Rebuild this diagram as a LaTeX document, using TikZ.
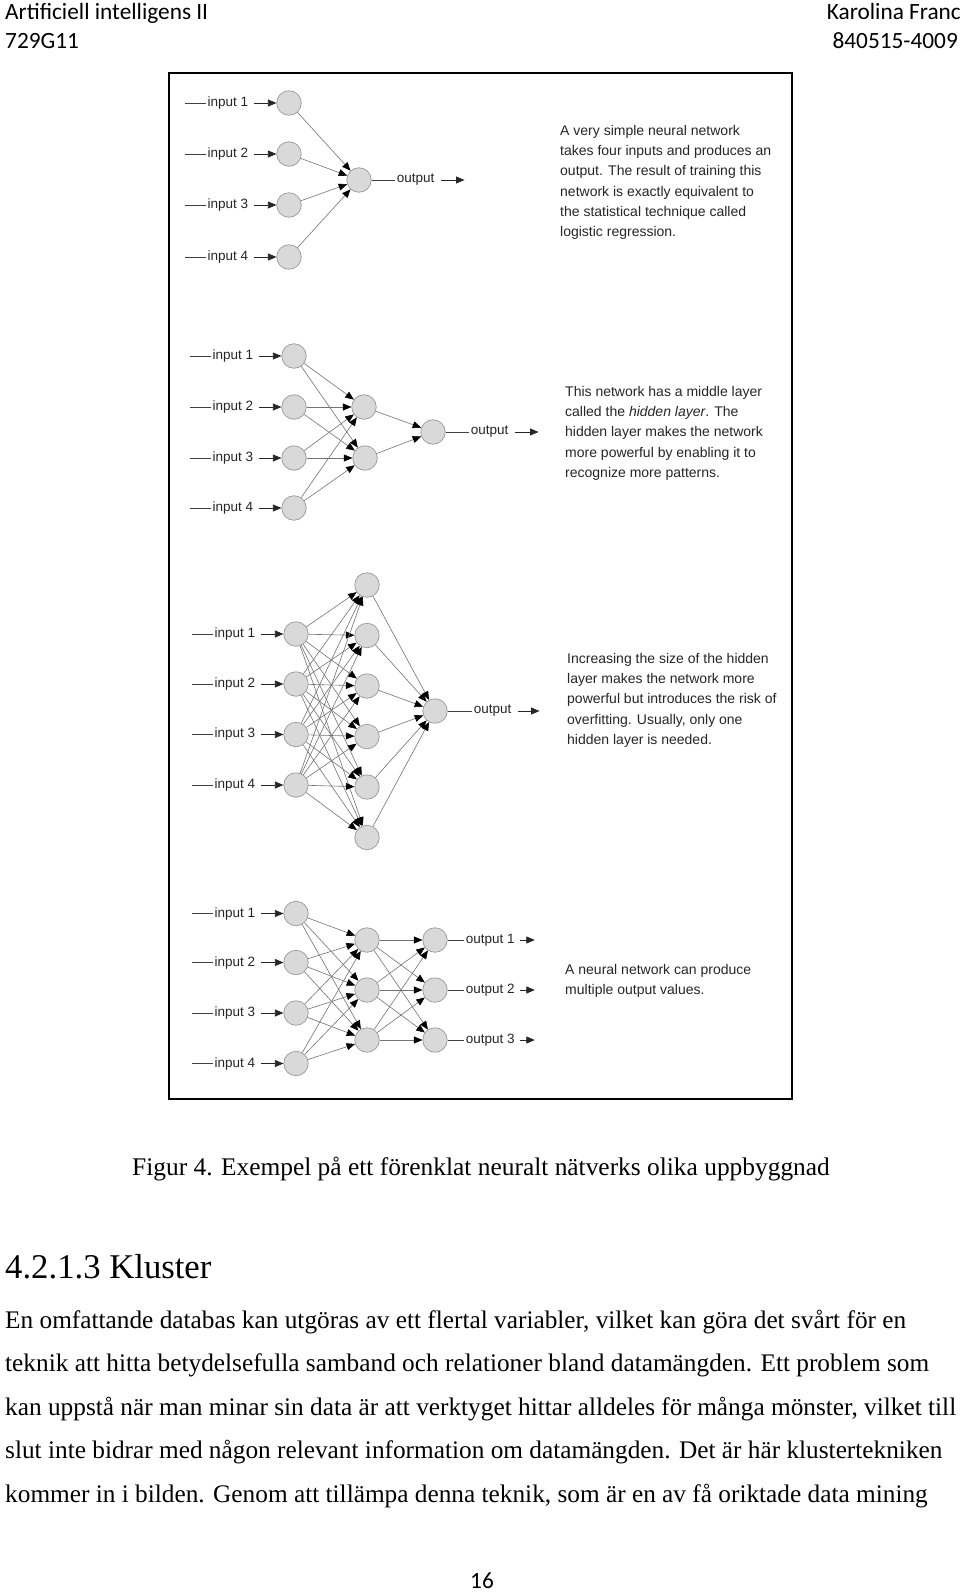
\documentclass[tikz,border=0pt]{standalone}
\usepackage{fontspec}
\setmainfont{Liberation Serif}
\setsansfont{Liberation Sans}
\newfontfamily\calfont{Carlito}
\usetikzlibrary{arrows.meta,positioning}

\begin{document}
\begin{tikzpicture}[x=1pt,y=-1pt,
  neuron/.style={circle,draw=gray!80,fill=gray!30,minimum size=24.5pt,inner sep=0pt,line width=0.7pt},
  lbl/.style={font=\sffamily\fontsize{13.5}{16}\selectfont,text=black!85,inner sep=0pt},
  note/.style={font=\sffamily\fontsize{14}{20.3}\selectfont,text=black!85,align=left,
               anchor=north west,inner sep=0pt},
  wire/.style={draw=black!55,line width=0.6pt,-{Triangle[length=8.5pt,width=7pt,color=black]}},
  feed/.style={draw=black!85,line width=0.8pt,-{Triangle[length=8.5pt,width=7pt]}},
  lead/.style={draw=black!75,line width=0.7pt,shorten >=1.5pt},
  bodyline/.style={font=\fontsize{25.3}{30}\selectfont,anchor=base west,inner sep=0pt},
  hdr/.style={font=\calfont\fontsize{23.3}{28}\selectfont,inner sep=0pt}]

\useasboundingbox (0,0) rectangle (960,1592);
\fill[white] (0,0) rectangle (960,1592);

% page header
\node[hdr,anchor=base west] (course) at (5,20) {Artificiell intelligens II};
\node[hdr,anchor=base west] (code) at (5,48.5) {729G11};
\node[hdr,anchor=base east] (author) at (961,20) {Karolina Franc};
\node[hdr,anchor=base east] (pnr) at (958,48.5) {840515-4009};

% figure frame
\draw[line width=2.2pt] (169,73) rectangle (792,1099);

% network 1: four inputs, one output
\foreach \k/\y in {1/103,2/154,3/205,4/257}{
  \node[neuron] (a\k) at (289,\y) {};
  \node[lbl,left=28pt of a\k] (al\k) {input \k};
  \coordinate[left=22pt of al\k] (as\k);
  \draw[lead] (as\k) -- (al\k);
  \draw[feed,shorten <=6pt] (al\k) -- (a\k);
}
\node[neuron] (ao) at (359,180) {};
\foreach \k in {1,...,4} \draw[wire] (a\k) -- (ao);
\node[lbl,right=25pt of ao] (aol) {output};
\draw[lead] (ao) -- (aol);
\coordinate[right=30pt of aol] (ae);
\draw[feed,shorten <=6pt] (aol) -- (ae);

\node[note] (n1) at (560,125) {A very simple neural network\\
takes four inputs and produces an\\
output.  The result of training this\\
network is exactly equivalent to\\
the statistical technique called\\
logistic regression.};

% network 2: one hidden layer of two
\foreach \k/\y in {1/356,2/407,3/458,4/508}{
  \node[neuron] (b\k) at (294,\y) {};
  \node[lbl,left=28pt of b\k] (bl\k) {input \k};
  \coordinate[left=22pt of bl\k] (bs\k);
  \draw[lead] (bs\k) -- (bl\k);
  \draw[feed,shorten <=6pt] (bl\k) -- (b\k);
}
\node[neuron] (bh1) at (364,407) {};
\node[neuron] (bh2) at (365,458) {};
\node[neuron] (bo) at (433,432) {};
\foreach \k in {1,...,4}{
  \draw[wire] (b\k) -- (bh1);
  \draw[wire] (b\k) -- (bh2);
}
\foreach \h in {1,2} \draw[wire] (bh\h) -- (bo);
\node[lbl,right=25pt of bo] (bol) {output};
\draw[lead] (bo) -- (bol);
\coordinate[right=30pt of bol] (be);
\draw[feed,shorten <=6pt] (bol) -- (be);

\node[note] (n2) at (565,386) {This network has a middle layer\\
called the \textit{hidden layer}. The\\
hidden layer makes the network\\
more powerful by enabling it to\\
recognize more patterns.};

% network 3: hidden layer of six
\foreach \k/\y in {1/634,2/684,3/734.5,4/785}{
  \node[neuron] (c\k) at (296,\y) {};
  \node[lbl,left=28pt of c\k] (cl\k) {input \k};
  \coordinate[left=22pt of cl\k] (cs\k);
  \draw[lead] (cs\k) -- (cl\k);
  \draw[feed,shorten <=6pt] (cl\k) -- (c\k);
}
\foreach \h in {1,...,6} \node[neuron] (ch\h) at (367,{534.5+50.5*\h}) {};
\node[neuron] (co) at (435,711) {};
\foreach \k in {1,...,4} \foreach \h in {1,...,6} \draw[wire] (c\k) -- (ch\h);
\foreach \h in {1,...,6} \draw[wire] (ch\h) -- (co);
\node[lbl,right=26pt of co] (col) {output};
\draw[lead] (co) -- (col);
\coordinate[right=28pt of col] (ce);
\draw[feed,shorten <=6pt] (col) -- (ce);

\node[note] (n3) at (567,653) {Increasing the size of the hidden\\
layer makes the network more\\
powerful but introduces the risk of\\
overfitting.  Usually, only one\\
hidden layer is needed.};

% network 4: three outputs
\foreach \k/\y in {1/913.5,2/962.5,3/1013,4/1063.5}{
  \node[neuron] (d\k) at (296,\y) {};
  \node[lbl,left=28pt of d\k] (dl\k) {input \k};
  \coordinate[left=22pt of dl\k] (ds\k);
  \draw[lead] (ds\k) -- (dl\k);
  \draw[feed,shorten <=6pt] (dl\k) -- (d\k);
}
\foreach \h in {1,2,3}{
  \node[neuron] (dh\h) at (367,{890+50*\h}) {};
  \node[neuron] (do\h) at (435,{890+50*\h}) {};
  \node[lbl,right=18pt of do\h] (dol\h) {output \h};
  \draw[lead] (do\h) -- (dol\h);
  \coordinate[right=20pt of dol\h] (de\h);
  \draw[feed,shorten <=5pt] (dol\h) -- (de\h);
}
\foreach \k in {1,...,4} \foreach \h in {1,2,3} \draw[wire] (d\k) -- (dh\h);
\foreach \h in {1,2,3} \foreach \o in {1,2,3} \draw[wire] (dh\h) -- (do\o);

\node[note] (n4) at (565,964) {A neural network can produce\\
multiple output values.};

% caption and text below the figure
\node[font=\fontsize{25.4}{30}\selectfont,anchor=base,inner sep=0pt] (cap) at (481,1175)
  {Figur 4. Exempel på ett förenklat neuralt nätverks olika uppbyggnad};
\node[font=\fontsize{34.7}{40}\selectfont,anchor=base west,inner sep=0pt] (sec) at (5,1278)
  {4.2.1.3 Kluster};
\node[bodyline] (p1) at (5,1328) {En omfattande databas kan utgöras av ett flertal variabler, vilket kan göra det svårt för en};
\node[bodyline] (p2) at (5,1371.5) {teknik att hitta betydelsefulla samband och relationer bland datamängden. Ett problem som};
\node[bodyline] (p3) at (5,1415) {kan uppstå när man minar sin data är att verktyget hittar alldeles för många mönster, vilket till};
\node[bodyline] (p4) at (5,1458.5) {slut inte bidrar med någon relevant information om datamängden. Det är här klustertekniken};
\node[bodyline] (p5) at (5,1502) {kommer in i bilden. Genom att tillämpa denna teknik, som är en av få oriktade data mining};

\node[hdr,anchor=base] (pg) at (482,1588) {16};
\end{tikzpicture}
\end{document}
